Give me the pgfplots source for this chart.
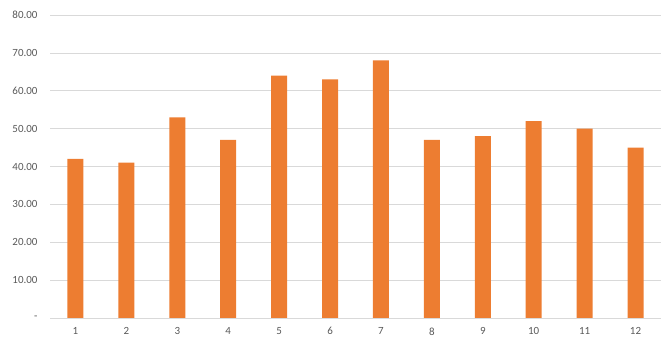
\documentclass[border=0pt]{standalone}
\usepackage{fontspec}
\setmainfont{Carlito}
\usepackage{pgfplots}
\pgfplotsset{compat=1.18}
\definecolor{barorange}{HTML}{ED7D31}
\definecolor{gridgray}{HTML}{D9D9D9}
\definecolor{textgray}{HTML}{595959}
\begin{document}
\begin{tikzpicture}
\useasboundingbox (0,0) rectangle (661bp,343bp);
\begin{axis}[
  at={(50bp,25bp)}, anchor=south west,
  scale only axis,
  width=611bp, height=303bp,
  xmin=0.5, xmax=12.5, ymin=0, ymax=80,
  axis line style={draw=none},
  axis x line*=bottom,
  ymajorgrids, grid style={gridgray, line width=0.75bp},
  ytick={0,10,...,80},
  yticklabels={-,10.00,20.00,30.00,40.00,50.00,60.00,70.00,80.00},
  xtick={1,...,12},
  xticklabels={1,2,3,4,5,6,7,8,9,10,11,12},
  major tick length=0pt,
  tick style={draw=none},
  ticklabel style={font=\fontsize{11}{12}\selectfont, text=textgray},
  yticklabel style={xshift=-9bp},
  xticklabel style={yshift=-6bp},
  clip=false,
]
\addplot[ybar, bar width=16bp, fill=barorange, draw=none] coordinates {
(1,42) (2,41) (3,53) (4,47) (5,64) (6,63) (7,68) (8,47) (9,48) (10,52) (11,50) (12,45)
};
\draw[gridgray, line width=0.75bp] (axis cs:0.5,0) -- (axis cs:12.5,0);
\end{axis}
\end{tikzpicture}
\end{document}
